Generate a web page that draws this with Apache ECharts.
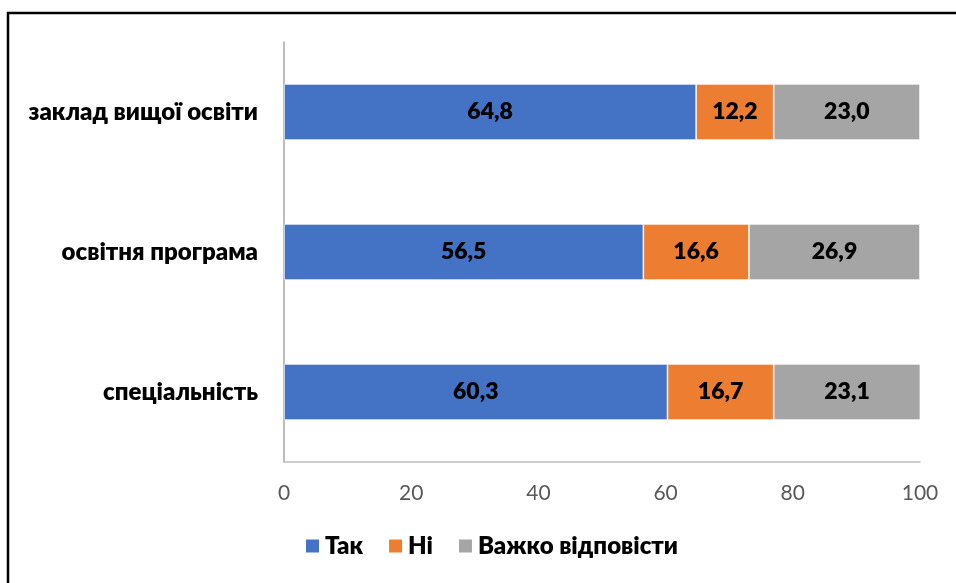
<!DOCTYPE html>
<html>
<head>
<meta charset="utf-8">
<script src="https://cdn.jsdelivr.net/npm/echarts@6/dist/echarts.min.js"></script>
<style>
html,body{margin:0;padding:0;background:#fff;}
#chart{width:956px;height:583px;}
</style>
</head>
<body>
<div id="chart"></div>
<script>
const categories = ['спеціальність', 'освітня програма', 'заклад вищої освіти'];
const seriesNames = ['Так', 'Ні', 'Важко відповісти'];
const yesValues = [60.3, 56.5, 64.8];
const noValues = [16.7, 16.6, 12.2];
const hardValues = [23.1, 26.9, 23.0];
const xTicks = [0, 20, 40, 60, 80, 100];

const colors = ['#4472C4', '#ED7D31', '#A5A5A5'];
const fontFam = 'Lato, "Open Sans", sans-serif';
const fmt = p => p.value.toFixed(1).replace('.', ',');

const chart = echarts.init(document.getElementById('chart'));
function mk(name, data, color) {
  return {
    name: name, type: 'bar', stack: 'total', data: data, barWidth: 56,
    itemStyle: { color: color, borderColor: '#ffffff', borderWidth: 0.7 },
    label: { show: true, position: 'inside', formatter: fmt, color: '#000', fontWeight: 800, fontSize: 23, fontFamily: fontFam },
    emphasis: { disabled: true }
  };
}
chart.setOption({
  animation: false,
  color: colors,
  graphic: [{
    type: 'rect', shape: { x: 8, y: 13, width: 1200, height: 1000 },
    style: { fill: 'none', stroke: '#000', lineWidth: 2.5 }, silent: true
  }],
  grid: { left: 284, right: 36, top: 42, bottom: 121, containLabel: false },
  xAxis: {
    type: 'value', min: xTicks[0], max: xTicks[xTicks.length - 1], interval: 20,
    axisLine: { show: true, lineStyle: { color: '#bfbfbf', width: 1.5 } },
    axisTick: { show: false }, splitLine: { show: false },
    axisLabel: { color: '#595959', fontSize: 21, fontFamily: fontFam, margin: 21 }
  },
  yAxis: {
    type: 'category', data: categories,
    axisLine: { show: true, lineStyle: { color: '#a6a6a6', width: 1.5 } },
    axisTick: { show: false },
    axisLabel: { color: '#000', fontSize: 24, fontWeight: 800, fontFamily: fontFam, margin: 26 }
  },
  legend: {
    data: seriesNames, bottom: 20, left: 299, itemWidth: 15, itemHeight: 15, itemGap: 24,
    icon: 'rect',
    textStyle: { color: '#000', fontSize: 24, fontWeight: 800, fontFamily: fontFam }
  },
  series: [mk(seriesNames[0], yesValues, colors[0]), mk(seriesNames[1], noValues, colors[1]), mk(seriesNames[2], hardValues, colors[2])]
});
</script>
</body>
</html>
